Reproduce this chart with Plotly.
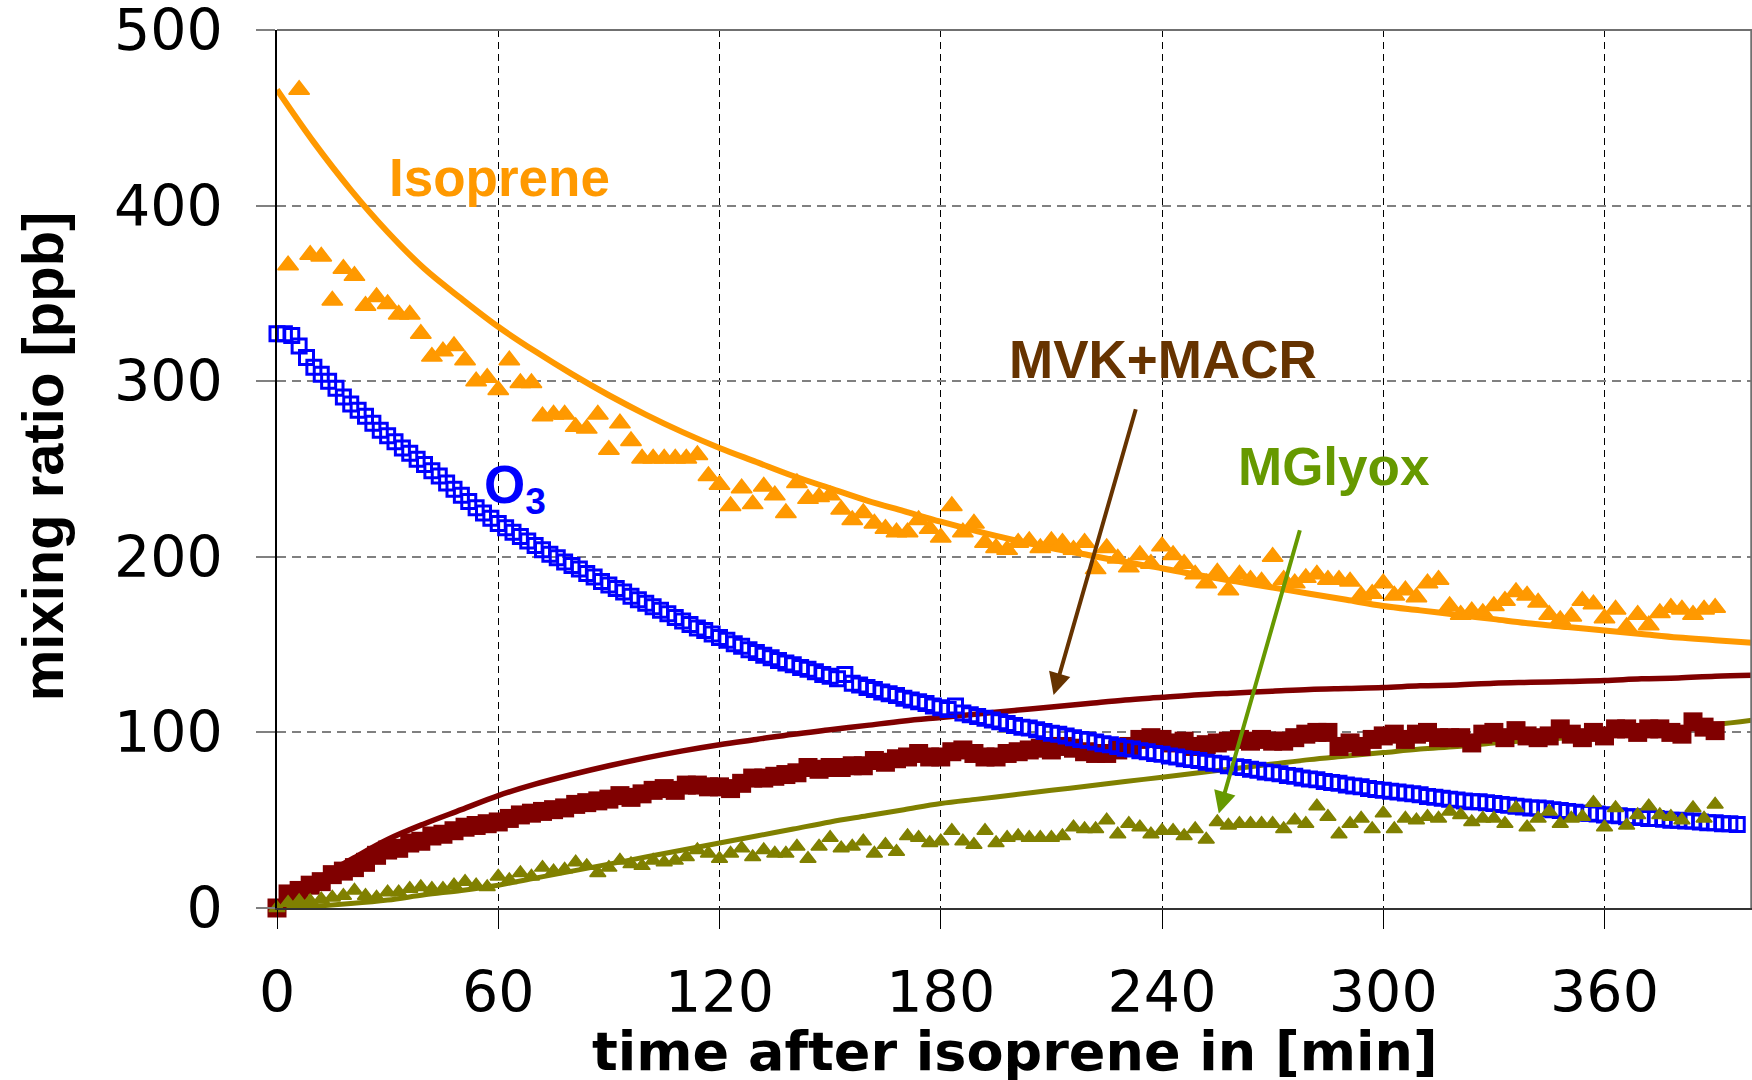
import plotly.graph_objects as go

# ---------------------------------------------------------------- sample times [min]
t_isoprene = list(range(3, 391, 3))          # measured isoprene
t_meas = list(range(0, 391, 3))              # measured MVK+MACR and MGlyox
t_o3 = list(range(0, 397, 2))                # measured ozone
t_model = list(range(0, 401, 10))            # model curves
t_mvk_model = [0, 5, 10, 15, 20] + list(range(30, 401, 10))

# ---------------------------------------------------------------- measured mixing ratios [ppb]
isoprene_meas = [
    366, 466, 372, 371, 346, 364, 360, 343, 348, 344,
    338, 338, 327, 314, 317, 320, 312, 300, 302, 295,
    312, 299, 299, 280, 281, 281, 274, 273, 281, 261,
    276, 266, 256, 256, 256, 256, 256, 258, 246, 241,
    229, 239, 230, 240, 235, 225, 242, 233, 234, 235,
    227, 221, 225, 219, 216, 214, 214, 221, 216, 211,
    229, 214, 219, 208, 205, 204, 208, 209, 205, 209,
    208, 204, 208, 193, 205, 199, 194, 201, 196, 206,
    201, 196, 190, 185, 191, 181, 190, 187, 186, 200,
    187, 185, 188, 190, 187, 187, 186, 178, 179, 185,
    178, 181, 177, 185, 187, 172, 167, 169, 168, 172,
    175, 180, 178, 174, 167, 164, 166, 175, 173, 165,
    170, 160, 167, 161, 168, 171, 170, 167, 170, 171,
]

mvk_meas = [
    0, 8, 10, 13, 15, 19, 21, 23, 26, 30,
    33, 34, 37, 38, 41, 42, 44, 46, 47, 48,
    49, 51, 53, 54, 55, 56, 57, 59, 60, 61,
    62, 64, 63, 65, 67, 68, 67, 70, 70, 69,
    69, 68, 71, 74, 74, 75, 76, 77, 80, 79,
    80, 80, 81, 81, 84, 83, 85, 86, 88, 86,
    86, 89, 90, 88, 86, 86, 88, 89, 90, 91,
    90, 92, 91, 89, 88, 88, 90, 92, 96, 97,
    96, 94, 95, 92, 93, 94, 95, 96, 95, 96,
    95, 95, 97, 99, 100, 100, 92, 94, 92, 96,
    98, 99, 96, 99, 100, 97, 97, 97, 94, 99,
    100, 97, 101, 98, 97, 98, 102, 99, 97, 100,
    98, 102, 102, 100, 102, 102, 100, 99, 106, 103,
    101,
]

mglyox_meas = [
    0, 3, 4, 4, 5, 6, 7, 10, 7, 6,
    9, 9, 11, 12, 11, 11, 13, 15, 13, 12,
    18, 16, 20, 18, 23, 21, 22, 26, 24, 20,
    23, 27, 25, 24, 27, 26, 27, 29, 33, 31,
    28, 31, 34, 29, 33, 31, 31, 35, 28, 35,
    40, 34, 35, 38, 31, 36, 32, 41, 40, 37,
    38, 44, 38, 36, 44, 37, 40, 41, 40, 40,
    40, 41, 46, 45, 45, 50, 42, 48, 46, 42,
    44, 44, 41, 45, 39, 49, 47, 48, 48, 48,
    48, 45, 50, 48, 58, 52, 42, 48, 51, 45,
    54, 45, 51, 50, 52, 51, 55, 53, 49, 51,
    51, 48, 57, 46, 51, 55, 48, 51, 52, 60,
    46, 57, 47, 53, 58, 53, 52, 50, 57, 51,
    59,
]

o3_meas = [
    327, 327, 326, 320, 313.5, 308, 304, 300, 296, 291,
    287, 283.5, 280, 276, 272, 269, 265.5, 262, 259, 255.5,
    252.5, 249, 246, 242, 238.5, 235, 231.5, 228, 225, 222,
    219, 216.5, 214, 211.5, 209, 206.5, 204, 201.5, 199.5, 197,
    195, 193, 190.5, 188.5, 186, 184, 182, 180, 177.5, 175.5,
    173.5, 171.5, 169.5, 167.5, 165.5, 163.5, 161.5, 159.5, 158, 156,
    154, 152.5, 150.5, 149, 147, 145.5, 144, 142.5, 141, 139.5,
    138.5, 137, 136, 134.5, 133, 132, 130.5, 133, 128, 127,
    125.5, 124.5, 123, 122, 121, 119.5, 118.5, 117.5, 116.5, 115,
    114, 113, 115, 111, 110, 109, 108, 107, 106, 105,
    104, 103, 102.5, 101.5, 100.5, 99.5, 99, 98, 97, 96,
    95.5, 94.5, 93.5, 93, 92, 91, 90.5, 89.5, 89, 88,
    87.5, 86.5, 86, 85, 84.5, 84, 83, 82.5, 82, 81,
    80.5, 80, 79, 78.5, 77.5, 77, 76.5, 75.5, 75, 74,
    73.5, 73, 72, 71.5, 71, 70, 69.5, 69, 68, 67.5,
    67, 66.5, 66, 65.5, 65, 64.5, 63.5, 63, 62.5, 62,
    61.5, 61, 60.5, 60.5, 60, 59.5, 59, 58.5, 58, 57.5,
    57, 57, 56.5, 56, 55.5, 55, 54.5, 54, 54, 53.5,
    53, 53, 52.5, 52, 52, 51.5, 51, 51, 50.5, 50,
    50, 49.5, 49.5, 49, 48.5, 48.5, 48, 48, 47.5,
]

# ---------------------------------------------------------------- model curves [ppb]
isoprene_model = [
    466, 436, 409, 385, 364, 347, 331, 317, 304, 292,
    281, 271, 262, 254, 246, 239, 232, 226, 220, 214.5,
    209.5, 205, 201, 197, 193.5, 189.5, 186, 182.5, 179, 175.5,
    172, 169.5, 167, 164.5, 162, 160, 158, 156, 154, 152.5,
    151,
]

mvk_model = [
    0, 7, 15, 21.5, 27.5,
    39, 48, 56, 64, 70.5, 76, 81, 85.5, 89.5, 93,
    96, 99, 101.5, 104, 106.5, 108.5, 110.5, 112.5, 114.5, 116.5,
    118.5, 120, 121.5, 122.5, 123.5, 124.5, 125, 125.5, 126.5, 127,
    128, 128.5, 129, 129.5, 130.5, 131, 132, 132.5,
]

mglyox_model = [
    0, 1, 2.5, 4.5, 7.5, 10, 13, 17, 21, 25,
    29, 33, 37, 41, 45, 49, 52.5, 56, 59.5, 62,
    64.5, 67, 69.5, 72, 74.5, 77, 79.5, 82, 84.5, 86.5,
    88.5, 90.5, 92, 94, 95.5, 97, 98.5, 100.5, 102.5, 104.5,
    107,
]

x_ticks = [0, 60, 120, 180, 240, 300, 360]
y_ticks = [0, 100, 200, 300, 400, 500]

ORANGE = "#FF9900"
BLUE = "#0000FF"
DARKRED = "#800000"
OLIVE = "#808000"
BROWN = "#663300"
GREEN = "#669900"

fig = go.Figure()

# model curves (under the measurements)
fig.add_trace(go.Scatter(x=t_model, y=isoprene_model, mode="lines",
                         line=dict(color=ORANGE, width=6, shape="spline"),
                         cliponaxis=False))
fig.add_trace(go.Scatter(x=t_model, y=mglyox_model, mode="lines",
                         line=dict(color=OLIVE, width=5, shape="spline"),
                         cliponaxis=False))
fig.add_trace(go.Scatter(x=t_meas, y=mvk_meas, mode="markers",
                         marker=dict(symbol="square", size=19, color=DARKRED,
                                     line=dict(width=0)),
                         cliponaxis=False))
fig.add_trace(go.Scatter(x=t_mvk_model, y=mvk_model, mode="lines",
                         line=dict(color=DARKRED, width=5.5, shape="spline"),
                         cliponaxis=False))
fig.add_trace(go.Scatter(x=t_isoprene, y=isoprene_meas, mode="markers",
                         marker=dict(symbol="triangle-up", size=18, color=ORANGE,
                                     line=dict(width=1.5, color=ORANGE)),
                         cliponaxis=False))
fig.add_trace(go.Scatter(x=t_o3, y=o3_meas, mode="markers",
                         marker=dict(symbol="square-open", size=14, color=BLUE,
                                     line=dict(width=3, color=BLUE)),
                         cliponaxis=False))
fig.add_trace(go.Scatter(x=t_meas, y=mglyox_meas, mode="markers",
                         marker=dict(symbol="triangle-up", size=14, color=OLIVE,
                                     line=dict(width=1.5, color=OLIVE)),
                         cliponaxis=False))

label_font = dict(family="Liberation Sans, Arial, sans-serif", size=53, weight="bold")

annotations = [
    dict(x=29.9, y=415.8, xref="x", yref="y", text="Isoprene", showarrow=False,
         xanchor="left", yanchor="middle", font=dict(label_font, color=ORANGE)),
    dict(x=55.5, y=239, xref="x", yref="y", text="O<sub>3</sub>", showarrow=False,
         xanchor="left", yanchor="middle", font=dict(label_font, color=BLUE)),
    dict(x=198.0, y=312.5, xref="x", yref="y", text="MVK+MACR", showarrow=False,
         xanchor="left", yanchor="middle", font=dict(label_font, color=BROWN)),
    dict(x=260.2, y=251.6, xref="x", yref="y", text="MGlyox", showarrow=False,
         xanchor="left", yanchor="middle", font=dict(label_font, color=GREEN)),
    # pointer arrows
    dict(x=210.6, y=121.3, ax=233.0, ay=284.9, xref="x", yref="y",
         axref="x", ayref="y", text="", showarrow=True, arrowhead=2,
         arrowsize=1.1, arrowwidth=4, arrowcolor=BROWN, standoff=0),
    dict(x=255.4, y=53.8, ax=277.5, ay=216.0, xref="x", yref="y",
         axref="x", ayref="y", text="", showarrow=True, arrowhead=2,
         arrowsize=1.1, arrowwidth=4, arrowcolor=GREEN, standoff=0),
    # axis titles
    dict(x=0.5, y=-0.164, xref="paper", yref="paper",
         text="time after isoprene in [min]", showarrow=False,
         xanchor="center", yanchor="middle",
         font=dict(family="DejaVu Sans, sans-serif", size=54, weight="bold", color="black")),
    dict(x=-0.159, y=0.515, xref="paper", yref="paper",
         text="mixing ratio [ppb]", showarrow=False, textangle=-90,
         xanchor="center", yanchor="middle",
         font=dict(family="Liberation Sans, Arial, sans-serif", size=58, weight="bold",
                   color="black")),
]

shapes = [
    # frame on top and right of the plotting area
    dict(type="line", xref="paper", yref="paper", x0=0, x1=1, y0=1, y1=1,
         line=dict(color="#707070", width=2)),
    dict(type="line", xref="paper", yref="paper", x0=0.9995, x1=0.9995, y0=0, y1=1,
         line=dict(color="#707070", width=2)),
]

tick_font = dict(family="DejaVu Sans, sans-serif", size=57, color="black")

fig.update_layout(
    width=1752, height=1080,
    margin=dict(l=277, r=0, t=30, b=172, autoexpand=False),
    paper_bgcolor="white", plot_bgcolor="white",
    showlegend=False,
    annotations=annotations,
    shapes=shapes,
    xaxis=dict(range=[0, 400], tickmode="array", tickvals=x_ticks,
               ticks="outside", ticklen=19, tickwidth=1, tickcolor="black",
               showgrid=True, gridcolor="black", gridwidth=1, griddash="7px,5px",
               showline=True, linecolor="#333333", linewidth=2, zeroline=False,
               tickfont=tick_font, ticklabelstandoff=15, ticklabeloverflow="allow"),
    yaxis=dict(range=[0, 500], tickmode="array", tickvals=y_ticks,
               ticks="outside", ticklen=19, tickwidth=1.5, tickcolor="#808080",
               showgrid=True, gridcolor="#808080", gridwidth=1.5, griddash="9px,6px",
               showline=True, linecolor="black", linewidth=1.5, zeroline=False,
               tickfont=tick_font, ticklabelstandoff=22, ticklabeloverflow="allow"),
)

fig.write_html("out.html")
